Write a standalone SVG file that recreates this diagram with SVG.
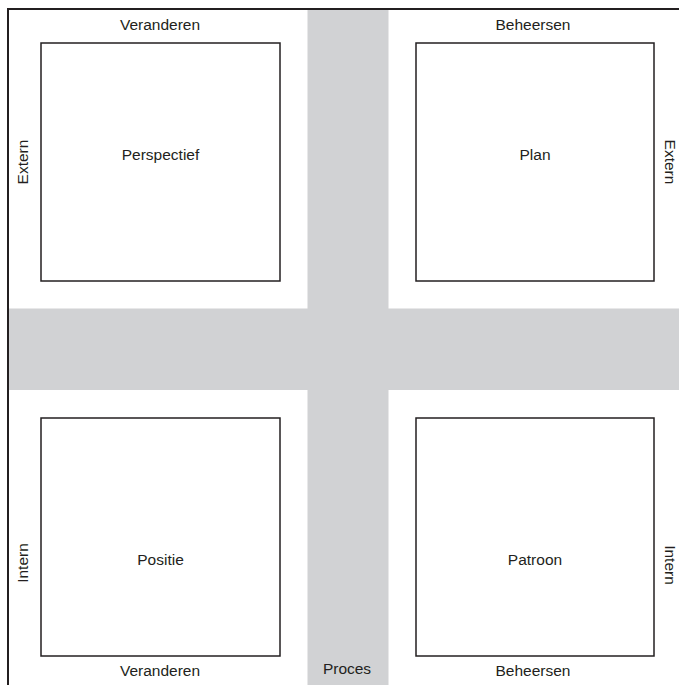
<svg xmlns="http://www.w3.org/2000/svg" width="679" height="685" viewBox="0 0 679 685">
  <style>
    .band { fill: #d1d2d4; }
    .box { fill: #ffffff; stroke: #231f20; stroke-width: 1.5; }
    .frame { fill: none; stroke: #231f20; stroke-width: 2; }
    text { font-family: "Liberation Sans", Arial, sans-serif; font-size: 15.5px; fill: #231f20; text-anchor: middle; }
  </style>
  <rect width="679" height="685" fill="#ffffff"/>

  <!-- cross-shaped process bands -->
  <g id="bands">
    <rect class="band" x="307.5" y="9" width="81" height="676"/>
    <rect class="band" x="8" y="308.5" width="671" height="81.5"/>
  </g>

  <!-- outer frame: top and left edges only -->
  <path class="frame" d="M8 685 V9 H679"/>

  <g id="perspectief">
    <rect class="box" x="41" y="43" width="239" height="238"/>
    <text x="160.5" y="160">Perspectief</text>
  </g>
  <g id="plan">
    <rect class="box" x="416" y="43" width="238" height="238"/>
    <text x="535" y="160">Plan</text>
  </g>
  <g id="positie">
    <rect class="box" x="41" y="418" width="239" height="238"/>
    <text x="160.5" y="565">Positie</text>
  </g>
  <g id="patroon">
    <rect class="box" x="416" y="418" width="238" height="238"/>
    <text x="535" y="565">Patroon</text>
  </g>

  <g id="axis-labels">
    <text x="160" y="29.5">Veranderen</text>
    <text x="533" y="29.5">Beheersen</text>
    <text x="160" y="676">Veranderen</text>
    <text x="533" y="676">Beheersen</text>
    <text x="347" y="674">Proces</text>
    <text transform="translate(27.5 162) rotate(-90)">Extern</text>
    <text transform="translate(665 162) rotate(90)">Extern</text>
    <text transform="translate(27.5 563) rotate(-90)">Intern</text>
    <text transform="translate(665 565) rotate(90)">Intern</text>
  </g>
</svg>
